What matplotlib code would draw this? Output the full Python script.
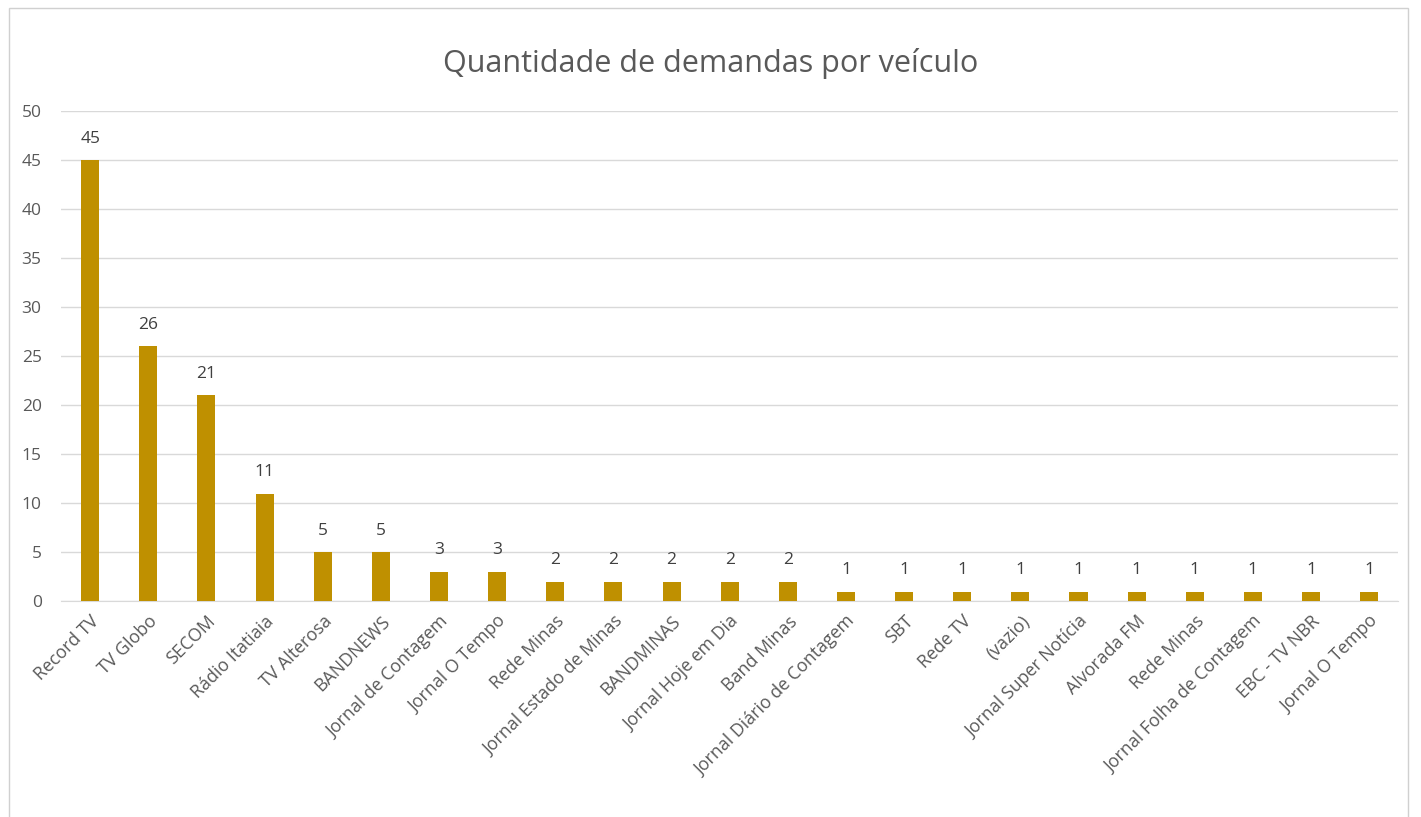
import matplotlib
matplotlib.use("Agg")
import matplotlib.pyplot as plt
from matplotlib.patches import Rectangle

plt.rcParams['font.family'] = ['Open Sans', 'DejaVu Sans']

veiculos = ['Record TV', 'TV Globo', 'SECOM', 'Rádio Itatiaia', 'TV Alterosa', 'BANDNEWS',
            'Jornal de Contagem', 'Jornal O Tempo', 'Rede Minas', 'Jornal Estado de Minas',
            'BANDMINAS', 'Jornal Hoje em Dia', 'Band Minas', 'Jornal Diário de Contagem',
            'SBT', 'Rede TV', '(vazio)', 'Jornal Super Notícia', 'Alvorada FM', 'Rede Minas',
            'Jornal Folha de Contagem', 'EBC - TV NBR', 'Jornal O Tempo']
demandas = [45, 26, 21, 11, 5, 5, 3, 3, 2, 2, 2, 2, 2, 1, 1, 1, 1, 1, 1, 1, 1, 1, 1]
yticks = [0, 5, 10, 15, 20, 25, 30, 35, 40, 45, 50]

fig = plt.figure(figsize=(14.21, 8.17), dpi=100)
fig.patches.append(Rectangle((0.006, -0.01), 0.985, 1.0, transform=fig.transFigure,
                             fill=False, edgecolor='#d0d0d0', linewidth=1))
ax = fig.add_axes([0.043, 0.264, 0.941, 0.5998])

x = list(range(len(veiculos)))
bars = ax.bar(x, demandas, width=0.31, color='#BF9000', zorder=3)
for xi, v in zip(x, demandas):
    ax.text(xi, v + 1.4, str(v), ha='center', va='bottom', fontsize=12.5, color='#404040')

ax.set_xlim(-0.5, len(veiculos) - 0.5)
ax.set_ylim(0, 50)
ax.set_yticks(yticks)
ax.yaxis.grid(True, color='#d9d9d9', linewidth=1, zorder=0)
ax.set_xticks(x)
ax.set_xticklabels(veiculos, rotation=45, ha='right', rotation_mode='anchor',
                   fontsize=12.8, color='#595959')
ax.tick_params(axis='y', labelsize=12.5, labelcolor='#595959', length=0, pad=14)
ax.tick_params(axis='x', length=0, pad=8)
for s in ['top', 'right', 'left']:
    ax.spines[s].set_visible(False)
ax.spines['bottom'].set_color('#d9d9d9')

fig.text(0.5, 0.922, 'Quantidade de demandas por veículo', ha='center', va='center',
         fontsize=22, color='#595959')

fig.savefig('out.png', dpi=100)
